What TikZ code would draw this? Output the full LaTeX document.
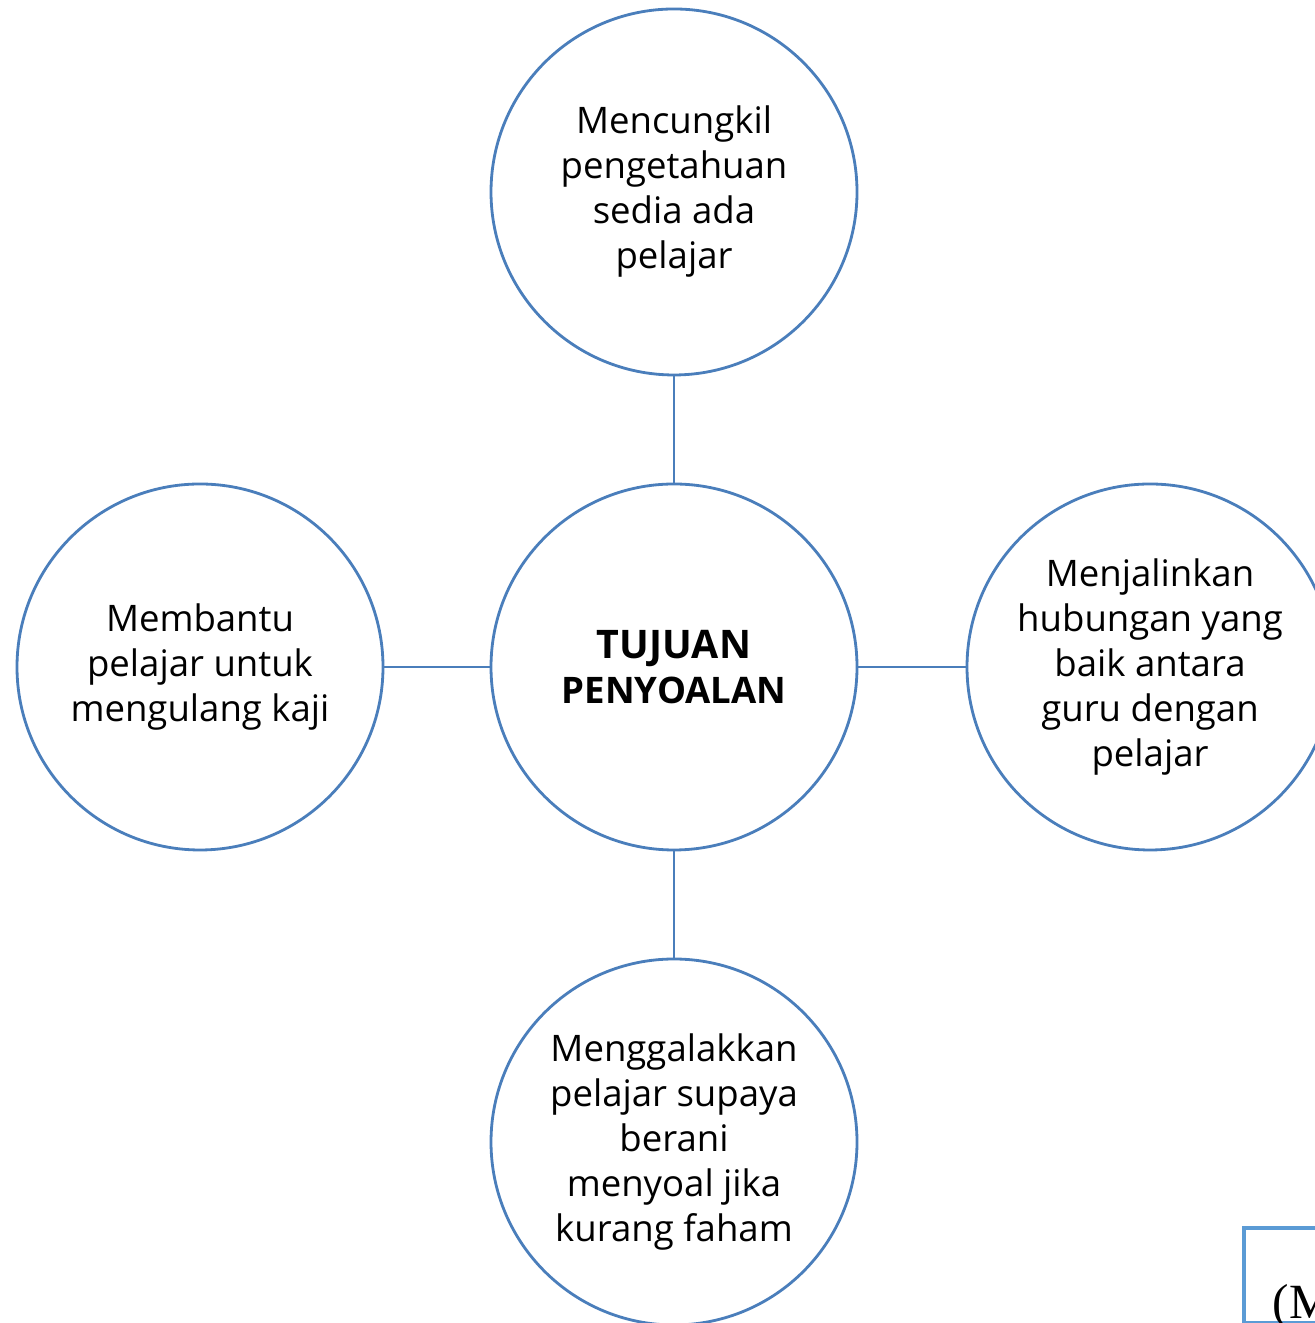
\documentclass[tikz,border=0pt]{standalone}
\usepackage{fontspec}
\setmainfont{Open Sans}
\newfontfamily\serifnota{Liberation Serif}
\usepackage{tikz}
\usetikzlibrary{positioning}
\definecolor{garis}{HTML}{4A7EBB}
\definecolor{kotak}{HTML}{5B9BD5}
\tikzset{
  bulatan/.style={circle,draw=garis,line width=0.8pt,minimum size=3.66cm,inner sep=0pt,align=center,font=\fontsize{10.4}{12.8}\selectfont},
  sambung/.style={draw=garis,line width=0.8pt}
}

\begin{document}
\begin{tikzpicture}
\useasboundingbox (0,0) rectangle (13.14,13.23);
% Bulatan
\node[bulatan] (tengah) at (6.74,6.56) {\fontsize{11.2}{12.8}\selectfont\textbf{TUJUAN}\\\textbf{PENYOALAN}}; % Tengah
\node[bulatan] (atas) at (6.74,11.31) {Mencungkil\\pengetahuan\\sedia ada\\pelajar};
\node[bulatan] (kiri) at (2.00,6.56) {Membantu\\pelajar untuk\\mengulang kaji};
\node[bulatan] (kanan) at (11.50,6.56) {Menjalinkan\\hubungan yang\\baik antara\\guru dengan\\pelajar};
\node[bulatan] (bawah) at (6.74,1.81) {Menggalakkan\\pelajar supaya\\berani\\menyoal jika\\kurang faham};
% Garis
\draw[sambung] (tengah) -- (atas);
\draw[sambung] (tengah) -- (kiri);
\draw[sambung] (tengah) -- (kanan);
\draw[sambung] (tengah) -- (bawah);
% Kotak di sudut
\draw[kotak,line width=1.1pt] (13.40,0) -- (12.44,0) -- (12.44,0.95) -- (13.40,0.95);
\node[anchor=base west,inner sep=0pt,font=\serifnota\fontsize{14}{14}\selectfont] (nota) at (12.72,0.05) {(M};
\end{tikzpicture}
\end{document}
